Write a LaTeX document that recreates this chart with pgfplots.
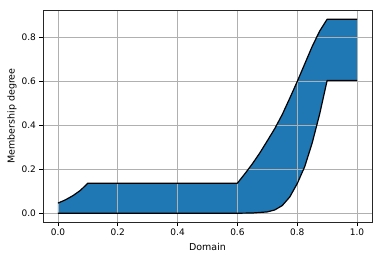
\documentclass[border=0pt]{standalone}
\usepackage{fontspec}
\setmainfont{DejaVu Sans}
\usepackage{pgfplots}
\usepackage{pgfplotstable}
\pgfplotsset{compat=1.18}
\usepgfplotslibrary{fillbetween}
\definecolor{mplblue}{HTML}{1F77B4}
\definecolor{gridgray}{HTML}{B0B0B0}
\pgfplotstableread{
x y
0.000 0.046
0.025 0.061
0.050 0.080
0.075 0.104
0.100 0.137
0.600 0.137
0.625 0.180
0.650 0.225
0.675 0.275
0.700 0.330
0.725 0.386
0.750 0.450
0.775 0.524
0.800 0.600
0.825 0.680
0.850 0.760
0.875 0.830
0.900 0.884
1.000 0.884
}\upperdata
\pgfplotstableread{
x y
0.000 0.000
0.600 0.000
0.650 0.001
0.700 0.006
0.725 0.015
0.750 0.035
0.775 0.074
0.800 0.135
0.825 0.212
0.850 0.320
0.875 0.452
0.900 0.605
1.000 0.605
}\lowerdata
\begin{document}
\begin{tikzpicture}
\begin{axis}[
  scale only axis, width=329pt, height=212pt,
  xmin=-0.05, xmax=1.05, ymin=-0.04, ymax=0.926,
  xtick={0,0.2,0.4,0.6,0.8,1.0},
  ytick={0,0.2,0.4,0.6,0.8},
  xticklabels={0.0,0.2,0.4,0.6,0.8,1.0},
  yticklabels={0.0,0.2,0.4,0.6,0.8},
  grid=major, grid style={color=gridgray, line width=0.6pt},
  tick align=outside, tick pos=left,
  major tick length=3.5pt,
  tick style={black, line width=0.6pt},
  axis line style={black!85, line width=0.6pt},
  ticklabel style={font=\fontsize{9}{10}\selectfont},
  xlabel={Domain}, ylabel={Membership degree},
  label style={font=\fontsize{9.5}{11}\selectfont},
  xlabel style={at={(axis description cs:0.5,-0.118)}, anchor=center},
  ylabel style={at={(axis description cs:-0.094,0.5)}, anchor=center},
  fill between/on layer=axis background,
]
\addplot[draw=none, name path=up, forget plot] table {\upperdata};
\addplot[draw=none, name path=lo, forget plot] table {\lowerdata};
\addplot[mplblue, draw=none] fill between[of=up and lo];
\addplot[black, line width=1.2pt, line join=round] table {\upperdata};
\addplot[black, line width=1.2pt, line join=round] table {\lowerdata};
\end{axis}
\path ([shift={(-43pt,-38pt)}]current axis.south west) rectangle ([shift={(10pt,10pt)}]current axis.north east);
\end{tikzpicture}
\end{document}
